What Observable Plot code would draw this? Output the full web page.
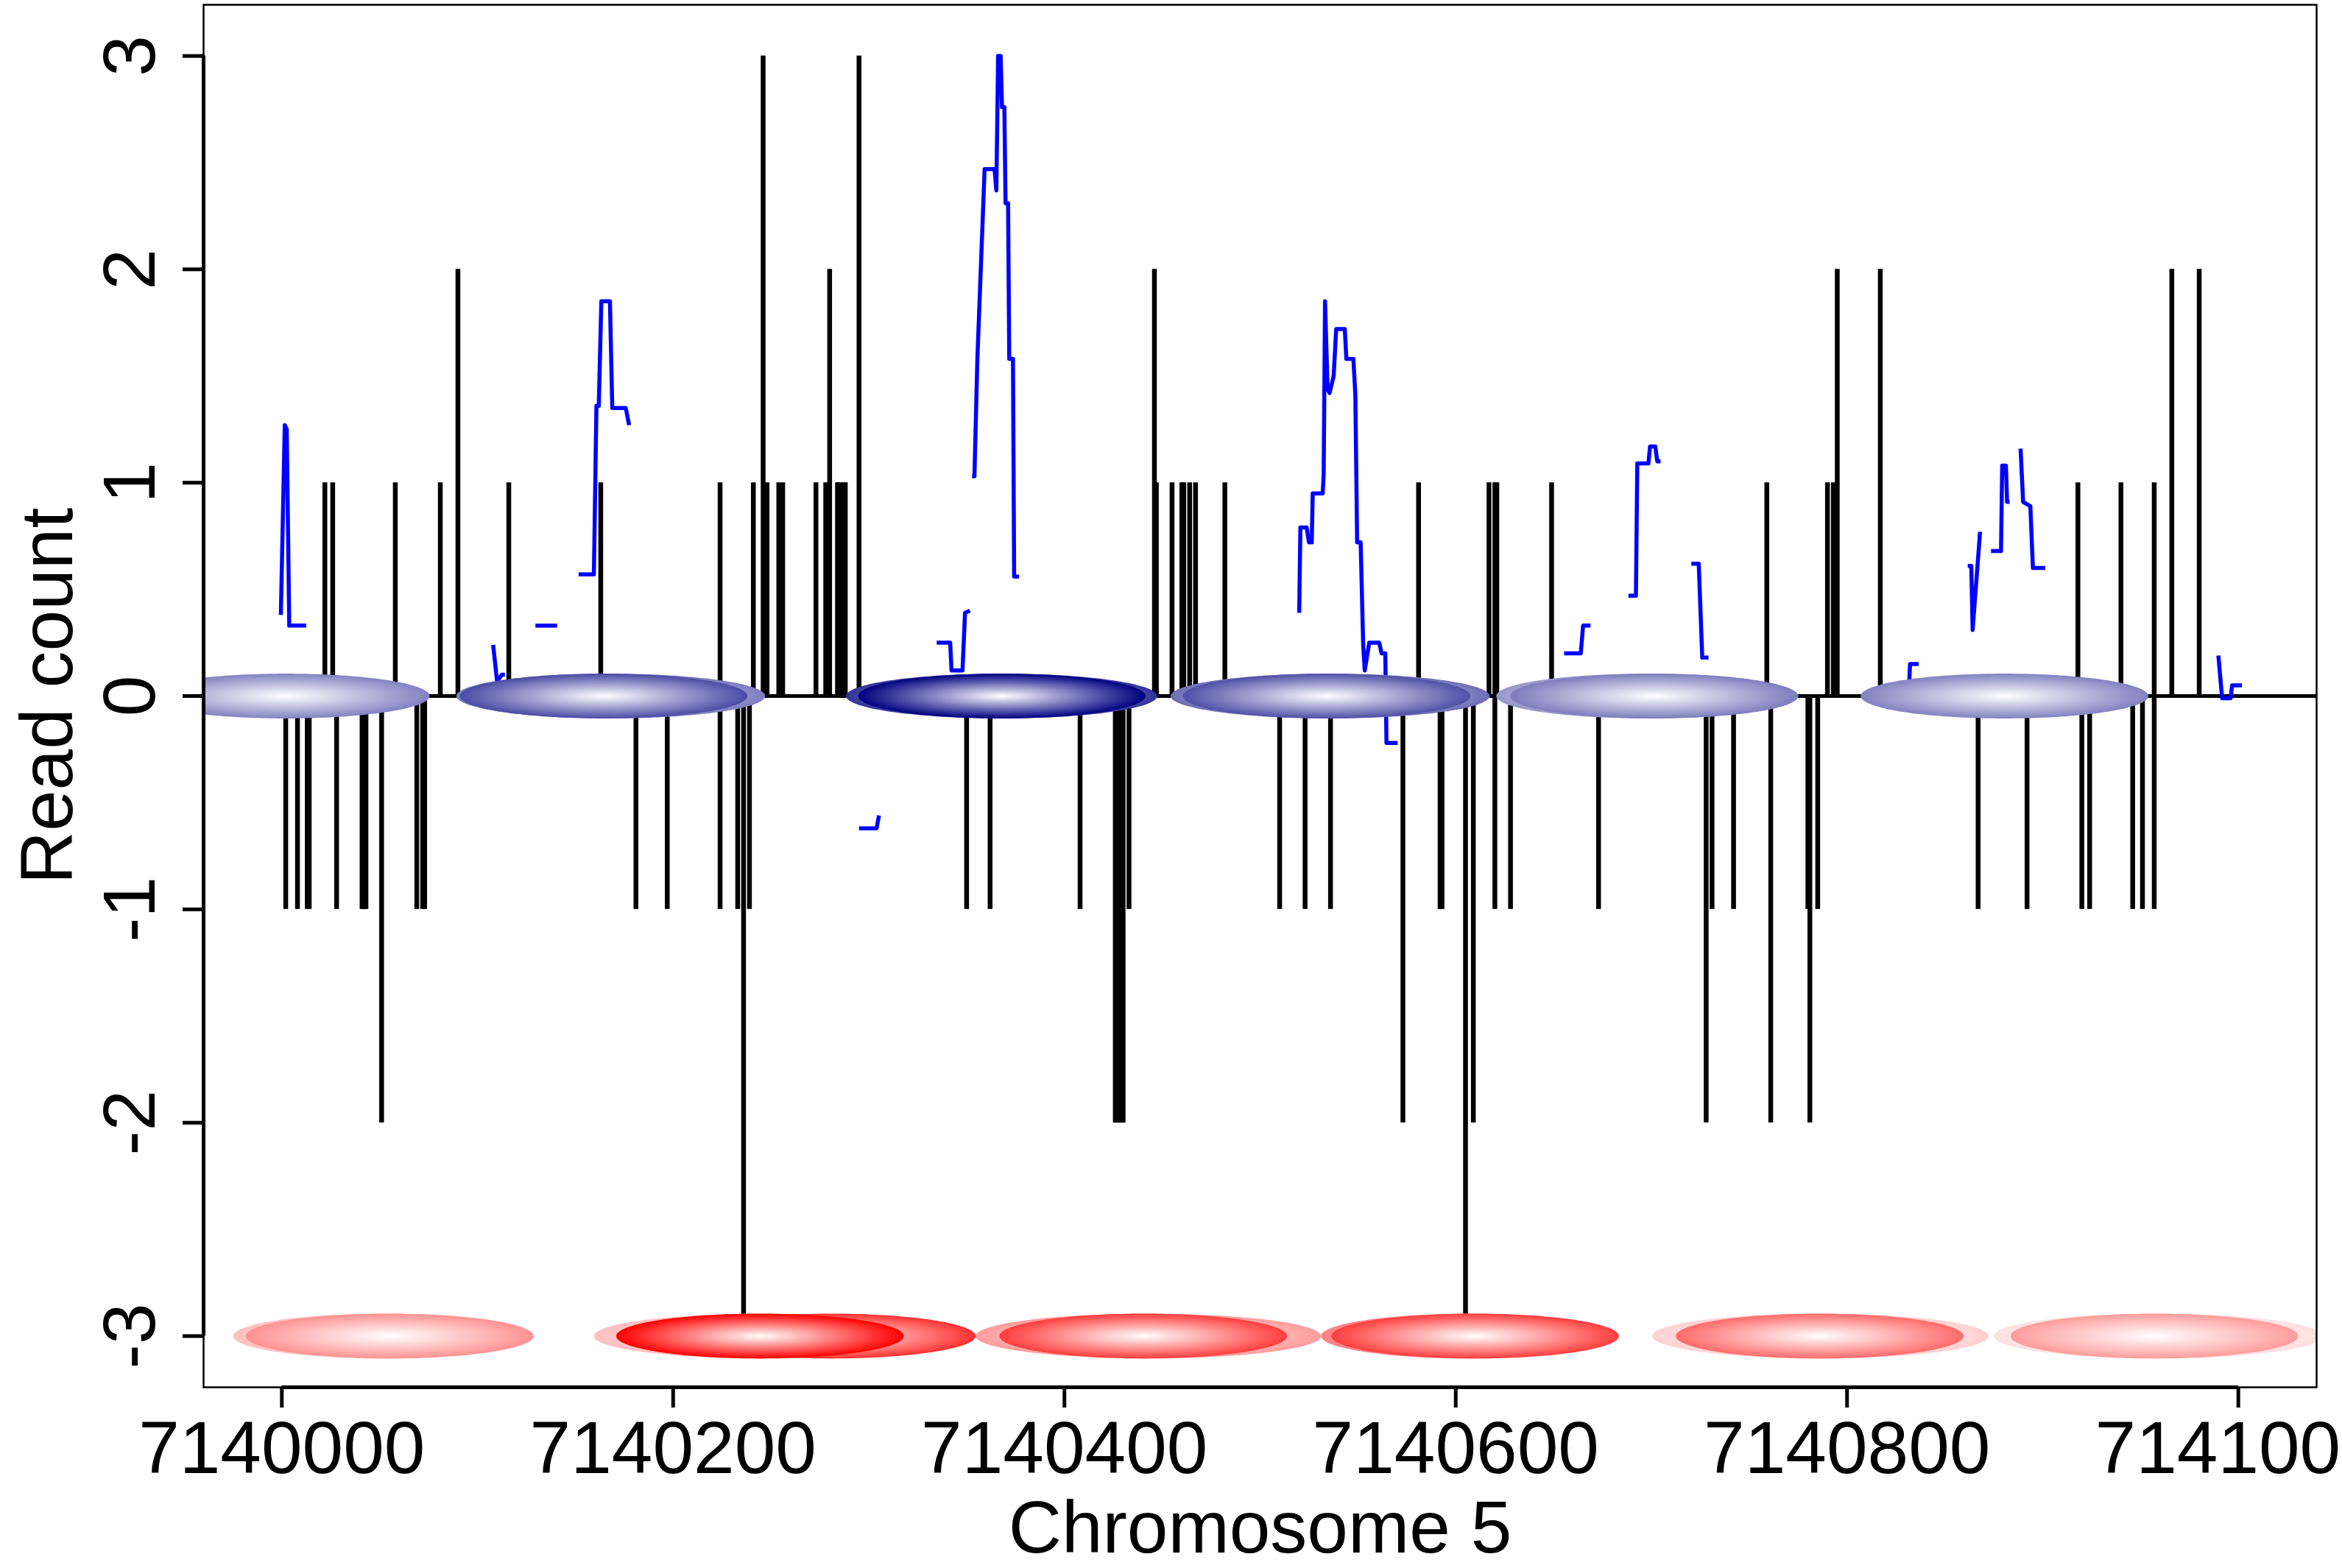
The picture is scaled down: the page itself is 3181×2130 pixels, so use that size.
<!DOCTYPE html>
<html>
<head>
<meta charset="utf-8">
<script src="https://cdn.jsdelivr.net/npm/d3@7"></script>
<script src="https://cdn.jsdelivr.net/npm/@observablehq/plot@0.6"></script>
<style>
  html, body { margin: 0; padding: 0; background: #fff; overflow: hidden; }
  svg { display: block; }
</style>
</head>
<body>
<div id="chart"></div>
<script>
// ---------- DATA ----------
const regionStart = 7140000;
const xTicks = [7140000, 7140200, 7140400, 7140600, 7140800, 7141000];
const yTicks = [-3, -2, -1, 0, 1, 2, 3];

// forward-strand read starts (offset from regionStart) and counts
const fwdOffset = [22, 26, 58, 81, 90, 116, 163, 224, 241, 246, 248, 254, 256, 273, 278, 280, 284, 285, 287, 288, 295,
  446, 447, 455, 460, 461, 464, 467, 482, 581, 617, 620, 621, 649, 759, 790, 793, 795, 817, 918, 940, 957, 966, 980];
const fwdCount = [1, 1, 1, 1, 2, 1, 1, 1, 1, 3, 1, 1, 1, 1, 1, 2, 1, 1, 1, 1, 3,
  2, 1, 1, 1, 1, 1, 1, 1, 1, 1, 1, 1, 1, 1, 1, 1, 2, 2, 1, 1, 1, 2, 2];

// reverse-strand read starts (offset) and (negative) counts
const revOffset = [2, 8, 13, 14, 28, 41, 42, 43, 51, 69, 72, 73, 181, 197, 224, 233, 236, 239, 350, 362, 408,
  426, 427, 428, 429, 430, 433, 510, 523, 536, 573, 592, 593, 605, 609, 620, 628, 673, 728, 731, 742, 761,
  780, 781, 785, 867, 892, 920, 924, 946, 951, 957];
const revCount = [-1, -1, -1, -1, -1, -1, -1, -1, -2, -1, -1, -1, -1, -1, -1, -1, -3, -1, -1, -1, -1,
  -2, -2, -2, -2, -2, -1, -1, -1, -1, -2, -1, -1, -3, -2, -1, -1, -1, -2, -1, -1, -2,
  -1, -2, -1, -1, -1, -1, -1, -1, -1, -1];

// smoothed profile (blue), in pieces
const smoothSegment = [
  "A","A","A","A","A",
  "B","B","B","B",
  "C","C",
  "D","D","D","D","D","D","D","D","D",
  "E","E","E",
  "F","F","F","F","F","F",
  "G","G","G","G","G","G","G","G","G","G","G","G","G","G","G","G",
  "H","H","H","H","H","H","H","H","H","H","H","H","H","H","H","H","H","H","H","H","H","H","H","H","H","H","H",
  "I","I","I","I",
  "J","J","J","J","J","J","J","J",
  "K","K","K","K",
  "L","L","L",
  "M","M","M","M",
  "N","N","N","N","N","N",
  "O","O","O","O","O",
  "P","P","P","P","P"
];
const smoothOffset = [
  -0.5, 1.5, 2.5, 3.8, 12.5,
  108, 110, 112.5, 114,
  129.6, 140.7,
  151.7, 159.5, 160.8, 162.0, 163.3, 167.7, 168.9, 175.8, 177.5,
  295, 304, 305.2,
  334.7, 341.6, 342.3, 347.9, 349.2, 351.7,
  352.8, 354.0, 355.5, 359.2, 364.3, 365.2, 366.1, 367.4, 368.1, 369.3, 369.9, 371.2, 371.8, 373.7, 374.3, 376.8,
  520.0, 520.6, 523.8, 525.0, 526.4, 526.9, 532.0, 532.5, 533.2, 534.5, 535.5, 537.6, 538.9, 543.3, 544.1, 547.7,
  548.7, 549.6, 551.4, 552.7, 553.5, 555.8, 560.9, 562.1, 564.0, 564.6, 570.3,
  655.4, 663.9, 665.1, 668.9,
  688.3, 692.1, 692.8, 698.5, 699.3, 702.0, 703.0, 704.7,
  720.4, 724.2, 726.0, 729.2,
  831.6, 832.2, 836.6,
  861.7, 863.5, 864.2, 868.0,
  873.6, 878.7, 879.3, 881.2, 881.8, 883.1,
  888.7, 890.0, 893.7, 895.0, 901.3,
  989.8, 991.7, 996.1, 996.8, 1001.8
];
const smoothValue = [
  0.38, 1.27, 1.25, 0.33, 0.33,
  0.24, 0.07, 0.10, 0.10,
  0.33, 0.33,
  0.57, 0.57, 1.36, 1.36, 1.85, 1.85, 1.35, 1.35, 1.27,
  -0.62, -0.62, -0.56,
  0.25, 0.25, 0.12, 0.12, 0.39, 0.40,
  1.03, 1.03, 1.58, 2.47, 2.47, 2.37, 3.00, 3.00, 2.76, 2.76, 2.31, 2.31, 1.58, 1.58, 0.56, 0.56,
  0.39, 0.79, 0.79, 0.72, 0.72, 0.95, 0.95, 1.04, 1.85, 1.44, 1.42, 1.50, 1.72, 1.72, 1.58, 1.58,
  1.41, 0.72, 0.72, 0.24, 0.12, 0.25, 0.25, 0.20, 0.20, -0.22, -0.22,
  0.20, 0.20, 0.33, 0.33,
  0.47, 0.47, 1.09, 1.09, 1.17, 1.17, 1.10, 1.10,
  0.62, 0.62, 0.18, 0.18,
  0.02, 0.15, 0.15,
  0.61, 0.61, 0.31, 0.77,
  0.68, 0.68, 1.08, 1.08, 0.91, 0.91,
  1.16, 0.91, 0.89, 0.60, 0.60,
  0.19, -0.01, -0.01, 0.05, 0.05
];

// nucleosome calls: forward row (y = 0) and reverse row (y = -3)
const nucleosomeWidth = 147;
const plusCenter = [2, 164.5, 368, 534, 701.4, 880.5];
const plusScore  = [0.49, 0.71, 1.0, 0.69, 0.51, 0.49];
const plusHaloCenter = [168.1, 367.9, 535.8, 697.9];
const plusHaloWidth  = [157.8, 159.0, 163.0, 154.4];
const plusHaloScore  = [0.51, 0.80, 0.57, 0.41];

const minusCenter = [55, 281.1, 244.4, 440.3, 609.9, 786, 957.1];
const minusScore  = [0.43, 0.81, 1.0, 0.76, 0.76, 0.58, 0.39];
const minusHaloCenter = [52, 244.4, 442.9, 607.2, 786.4, 959];
const minusHaloWidth  = [153.6, 169.8, 176.6, 152.0, 172.0, 168.0];
const minusHaloScore  = [0.25, 0.25, 0.39, 0.50, 0.18, 0.12];

// ---------- BUILD ----------
const fwd = fwdOffset.map((o, i) => ({pos: regionStart + o, count: fwdCount[i]}));
const rev = revOffset.map((o, i) => ({pos: regionStart + o, count: revCount[i]}));
const smooth = smoothOffset.map((o, i) => ({pos: regionStart + o, value: smoothValue[i], seg: smoothSegment[i]}));

const ellipseHalfHeight = 0.105;
const blueMix = d3.interpolateRgb("#ffffff", "#000080");
const redMix = d3.interpolateRgb("#ffffff", "#ff0000");

const gradients = [];
function ellipseMark(center, width, row, color, id) {
  const hw = width / 2;
  const pts = d3.range(160).map(i => {
    const t = 2 * Math.PI * i / 160;
    return {x: regionStart + center + hw * Math.cos(t), y: row + ellipseHalfHeight * Math.sin(t)};
  });
  gradients.push({id, color});
  return Plot.line(pts, {x: "x", y: "y", fill: `url(#${id})`, stroke: "none", curve: "linear-closed", clip: true});
}

const ellipseMarks = [];
plusHaloCenter.forEach((c, i) => ellipseMarks.push(ellipseMark(c, plusHaloWidth[i], 0, blueMix(plusHaloScore[i]), "ph" + i)));
plusCenter.forEach((c, i) => ellipseMarks.push(ellipseMark(c, nucleosomeWidth, 0, blueMix(plusScore[i]), "pn" + i)));
minusHaloCenter.forEach((c, i) => ellipseMarks.push(ellipseMark(c, minusHaloWidth[i], -3, redMix(minusHaloScore[i]), "mh" + i)));
minusCenter.forEach((c, i) => ellipseMarks.push(ellipseMark(c, nucleosomeWidth, -3, redMix(minusScore[i]), "mn" + i)));

const FONT = "'Liberation Sans', Arial, Helvetica, sans-serif";
const xMin = 7139960, xMax = 7141040, yMin = -3.24, yMax = 3.24;

const svg = Plot.plot({
  width: 3181,
  height: 2130,
  marginLeft: 276,
  marginRight: 35,
  marginTop: 6,
  marginBottom: 246,
  style: {fontFamily: FONT, fontSize: "100px", background: "white", color: "black", overflow: "hidden"},
  x: {domain: [xMin, xMax]},
  y: {domain: [yMin, yMax]},
  marks: [
    Plot.ruleY([0], {stroke: "black", strokeWidth: 5}),
    Plot.ruleX(fwd, {x: "pos", y1: 0, y2: "count", stroke: "black", strokeWidth: 6.5}),
    Plot.ruleX(rev, {x: "pos", y1: 0, y2: "count", stroke: "black", strokeWidth: 6.5}),
    Plot.line(smooth, {x: "pos", y: "value", z: "seg", stroke: "#0000ff", strokeWidth: 5.5, strokeLinejoin: "round", strokeLinecap: "butt"}),
    ...ellipseMarks,
    Plot.frame({stroke: "black", strokeWidth: 2.5}),
    Plot.ruleX([xMin], {y1: yTicks[0], y2: yTicks[yTicks.length - 1], stroke: "black", strokeWidth: 5}),
    Plot.ruleY([yMin], {x1: xTicks[0], x2: xTicks[xTicks.length - 1], stroke: "black", strokeWidth: 5}),
    Plot.axisX({ticks: xTicks, tickSize: 28, strokeWidth: 5, tickPadding: 17, tickFormat: d => String(d), fontSize: 100, label: null}),
    Plot.axisY({ticks: yTicks, tickSize: 28, strokeWidth: 5, tickRotate: -90, tickPadding: 39, tickFormat: d => String(d), fontSize: 100, label: null}),
    Plot.text(["Chromosome 5"], {text: d => d, frameAnchor: "bottom", dy: 224, lineAnchor: "bottom", fontSize: 100}),
    Plot.text(["Read count"], {text: d => d, frameAnchor: "left", dx: -179, rotate: -90, lineAnchor: "bottom", textAnchor: "middle", fontSize: 100})
  ]
});

const defs = d3.select(svg).insert("defs", ":first-child");
gradients.forEach(g => {
  const rg = defs.append("radialGradient").attr("id", g.id).attr("cx", "50%").attr("cy", "50%").attr("r", "50%");
  rg.append("stop").attr("offset", "0%").attr("stop-color", "#ffffff");
  rg.append("stop").attr("offset", "100%").attr("stop-color", g.color);
});

document.getElementById("chart").appendChild(svg);
</script>
</body>
</html>
